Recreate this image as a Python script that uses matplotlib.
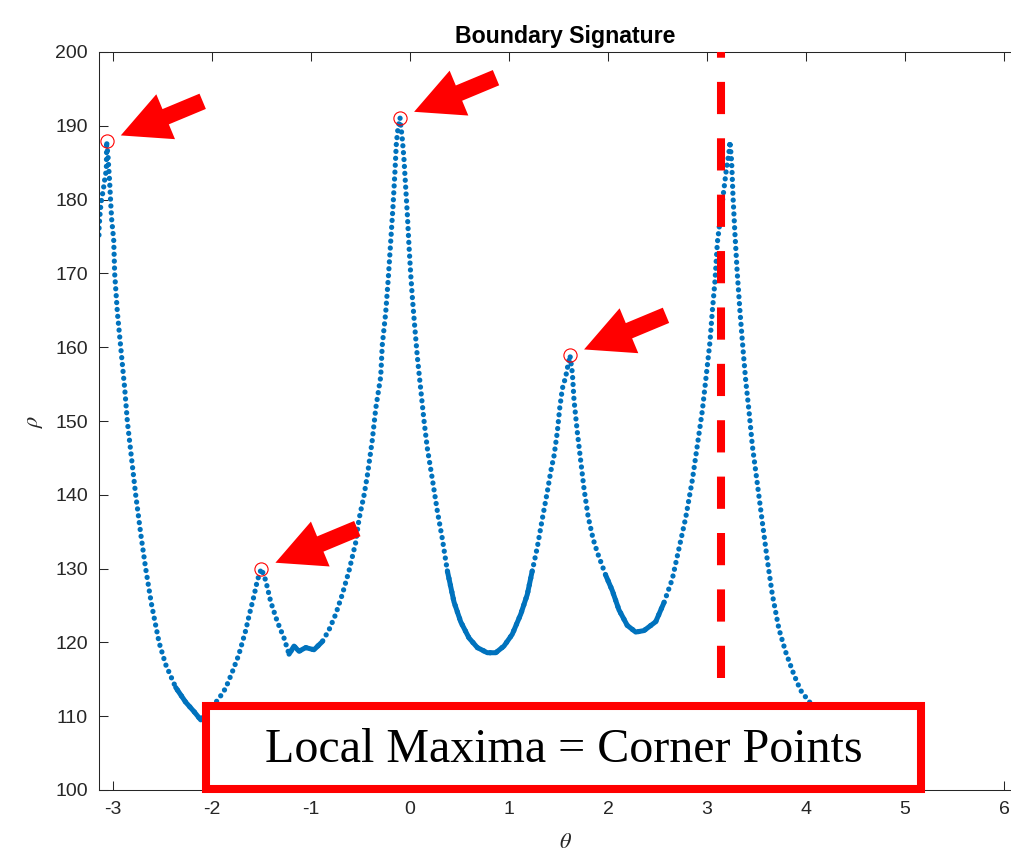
import numpy as np
import matplotlib.pyplot as plt
from matplotlib.patches import Rectangle

# boundary signature (theta in rad, rho in px)
theta = [-3.142, -3.141, -3.136, -3.131, -3.124, -3.114, -3.098, -3.088, -3.074,
         -3.067, -3.064, -3.061, -3.051, -3.044, -3.034, -3.024, -3.013, -2.993,
         -2.983, -2.956, -2.922, -2.882, -2.855, -2.805, -2.771, -2.720, -2.670,
         -2.613, -2.535, -2.468, -2.367, -2.266, -2.180, -2.114, -2.060, -1.997,
         -1.930, -1.862, -1.795, -1.730, -1.660, -1.626, -1.576, -1.542, -1.502,
         -1.458, -1.407, -1.340, -1.273, -1.222, -1.172, -1.121, -1.054, -0.970,
         -0.886, -0.818, -0.751, -0.684, -0.616, -0.549, -0.515, -0.465, -0.431,
         -0.381, -0.346, -0.296, -0.280, -0.246, -0.219, -0.195, -0.172, -0.152,
         -0.138, -0.121, -0.101, -0.077, -0.061, -0.044, -0.027, -0.010, 0.007,
         0.024, 0.047, 0.074, 0.108, 0.141, 0.175, 0.226, 0.276, 0.327, 0.377,
         0.444, 0.512, 0.596, 0.680, 0.781, 0.866, 0.949, 1.033, 1.118, 1.185,
         1.235, 1.286, 1.336, 1.387, 1.421, 1.455, 1.488, 1.512, 1.539, 1.573,
         1.596, 1.616, 1.640, 1.657, 1.690, 1.724, 1.758, 1.800, 1.850, 1.892,
         1.977, 2.044, 2.111, 2.195, 2.280, 2.364, 2.482, 2.566, 2.650, 2.717,
         2.785, 2.852, 2.902, 2.953, 2.987, 3.030, 3.054, 3.081, 3.105, 3.138,
         3.172, 3.195, 3.222, 3.232, 3.249, 3.263, 3.283, 3.306, 3.333, 3.364,
         3.391, 3.424, 3.458, 3.508, 3.559, 3.609, 3.660, 3.727, 3.795, 3.879,
         3.946, 4.030, 4.120, 4.200]
rho = [175.2, 176.1, 177.1, 178.1, 179.1, 180.2, 181.3, 182.4, 183.5,
       184.4, 187.9, 187.2, 186.0, 184.4, 182.4, 179.7, 177.2, 174.5,
       169.9, 164.7, 159.9, 154.4, 149.9, 144.0, 140.0, 134.7, 130.0,
       125.3, 120.0, 117.0, 113.9, 111.9, 110.6, 109.5, 110.2, 111.3,
       112.4, 113.8, 116.0, 118.3, 121.6, 123.6, 126.3, 128.4, 130.0,
       128.4, 125.5, 122.8, 120.6, 118.4, 119.5, 118.8, 119.3, 119.0,
       120.1, 121.7, 123.8, 126.5, 129.7, 133.5, 136.7, 139.9, 142.6,
       147.4, 151.7, 156.0, 160.3, 164.6, 169.4, 174.2, 179.0, 183.8,
       187.6, 189.7, 191.1, 188.1, 185.5, 181.7, 178.0, 173.7, 169.9,
       166.7, 162.9, 158.7, 154.4, 150.1, 146.3, 142.1, 137.8, 134.0, 129.7,
       125.5, 122.8, 120.6, 119.3, 118.6, 118.6, 119.5, 121.1, 123.8, 126.5,
       129.7, 132.9, 136.7, 140.4, 143.1, 145.3, 148.5, 151.7, 154.4, 156.0,
       157.6, 158.9, 156.5, 152.8, 148.5, 144.6, 140.8, 137.0, 134.0, 132.2,
       129.1, 127.0, 124.4, 122.3, 121.4, 121.6, 122.8, 125.4, 128.6, 132.7,
       136.9, 142.0, 146.7, 151.4, 155.5, 160.7, 164.9, 169.0, 174.2, 177.8,
       181.4, 184.0, 186.4, 187.9, 185.1, 180.4, 175.2, 170.0, 164.9, 159.7,
       155.5, 151.4, 146.7, 141.5, 136.3, 131.2, 126.5, 121.8, 118.7, 115.6,
       113.5, 112.0, 110.8, 110.0]

# local maxima (corner points)
peak_theta = [-3.064, -1.502, -0.101, 1.616]
peak_rho = [187.9, 130.0, 191.1, 158.9]

# stretches where the samples are so close that the dots merge
dense_ranges = [(-2.45, -2.0), (-1.25, -0.85), (0.36, 1.25), (1.95, 2.6)]

xticks = [-3, -2, -1, 0, 1, 2, 3, 4, 5, 6]
yticks = [100, 110, 120, 130, 140, 150, 160, 170, 180, 190, 200]
wrap_theta = np.pi
wrap_bottom = 115.2
note = "Local Maxima = Corner Points"

blue = '#0072BD'
grey = '#262626'

plt.rcParams['font.family'] = ['Liberation Sans', 'DejaVu Sans']
plt.rcParams['mathtext.fontset'] = 'stix'
plt.rcParams['axes.unicode_minus'] = False

fig = plt.figure(figsize=(10.11, 8.51), dpi=100)
ax = fig.add_axes([99 / 1011, 61 / 851, 933 / 1011, 738 / 851])

th = np.array(theta)
r = np.array(rho)
ax.plot(th, r, color=blue, lw=3.8, linestyle=(0, (0.01, 1.3)),
        dash_capstyle='round', zorder=2)
for lo, hi in dense_ranges:
    m = (th >= lo) & (th <= hi)
    ax.plot(th[m], r[m], color=blue, lw=3.6, solid_capstyle='round', zorder=2)

ax.plot(peak_theta, peak_rho, 'o', mfc='none', mec='red', ms=9.5, mew=0.8, zorder=3)

# wrap-around marker
ax.plot([wrap_theta, wrap_theta], [wrap_bottom, 210], color='red', lw=5.8,
        linestyle=(0, (4, 3)), dash_capstyle='butt', zorder=4)

for pt, pr in zip(peak_theta, peak_rho):
    ax.annotate('', xy=(pt, pr), xytext=(96, 40), textcoords='offset pixels',
                arrowprops=dict(arrowstyle='simple,head_length=1,head_width=1,tail_width=0.34',
                                mutation_scale=35, fc='red', ec='none',
                                shrinkA=0, shrinkB=11), zorder=5)

ax.set_xlim(-np.pi, 2 * np.pi)
ax.set_ylim(100, 200)
ax.set_xticks(xticks)
ax.set_yticks(yticks)
ax.tick_params(direction='in', length=6.5, width=0.75, top=True, right=True,
               labelsize=14, colors=grey, pad=8)
for s in ax.spines.values():
    s.set_color(grey)
    s.set_linewidth(0.75)

ax.set_title('Boundary Signature', fontsize=16.7, fontweight='bold', pad=6.5)
ax.set_xlabel(r'$\theta$', fontsize=16, labelpad=10, color=grey)
ax.set_ylabel(r'$\rho$', fontsize=16, labelpad=7, color=grey)

# note box
ax.add_patch(Rectangle((0.1147, 0.0018), 0.7663, 0.112, transform=ax.transAxes,
                       fc='white', ec='red', lw=5.8, joinstyle='miter',
                       clip_on=False, zorder=6))
ax.text(0.4979, 0.0383, note, transform=ax.transAxes, ha='center', va='baseline',
        family=['Liberation Serif', 'DejaVu Serif'], fontsize=34.6, color='black',
        zorder=7)

fig.savefig('out.png', dpi=100, facecolor='white')
